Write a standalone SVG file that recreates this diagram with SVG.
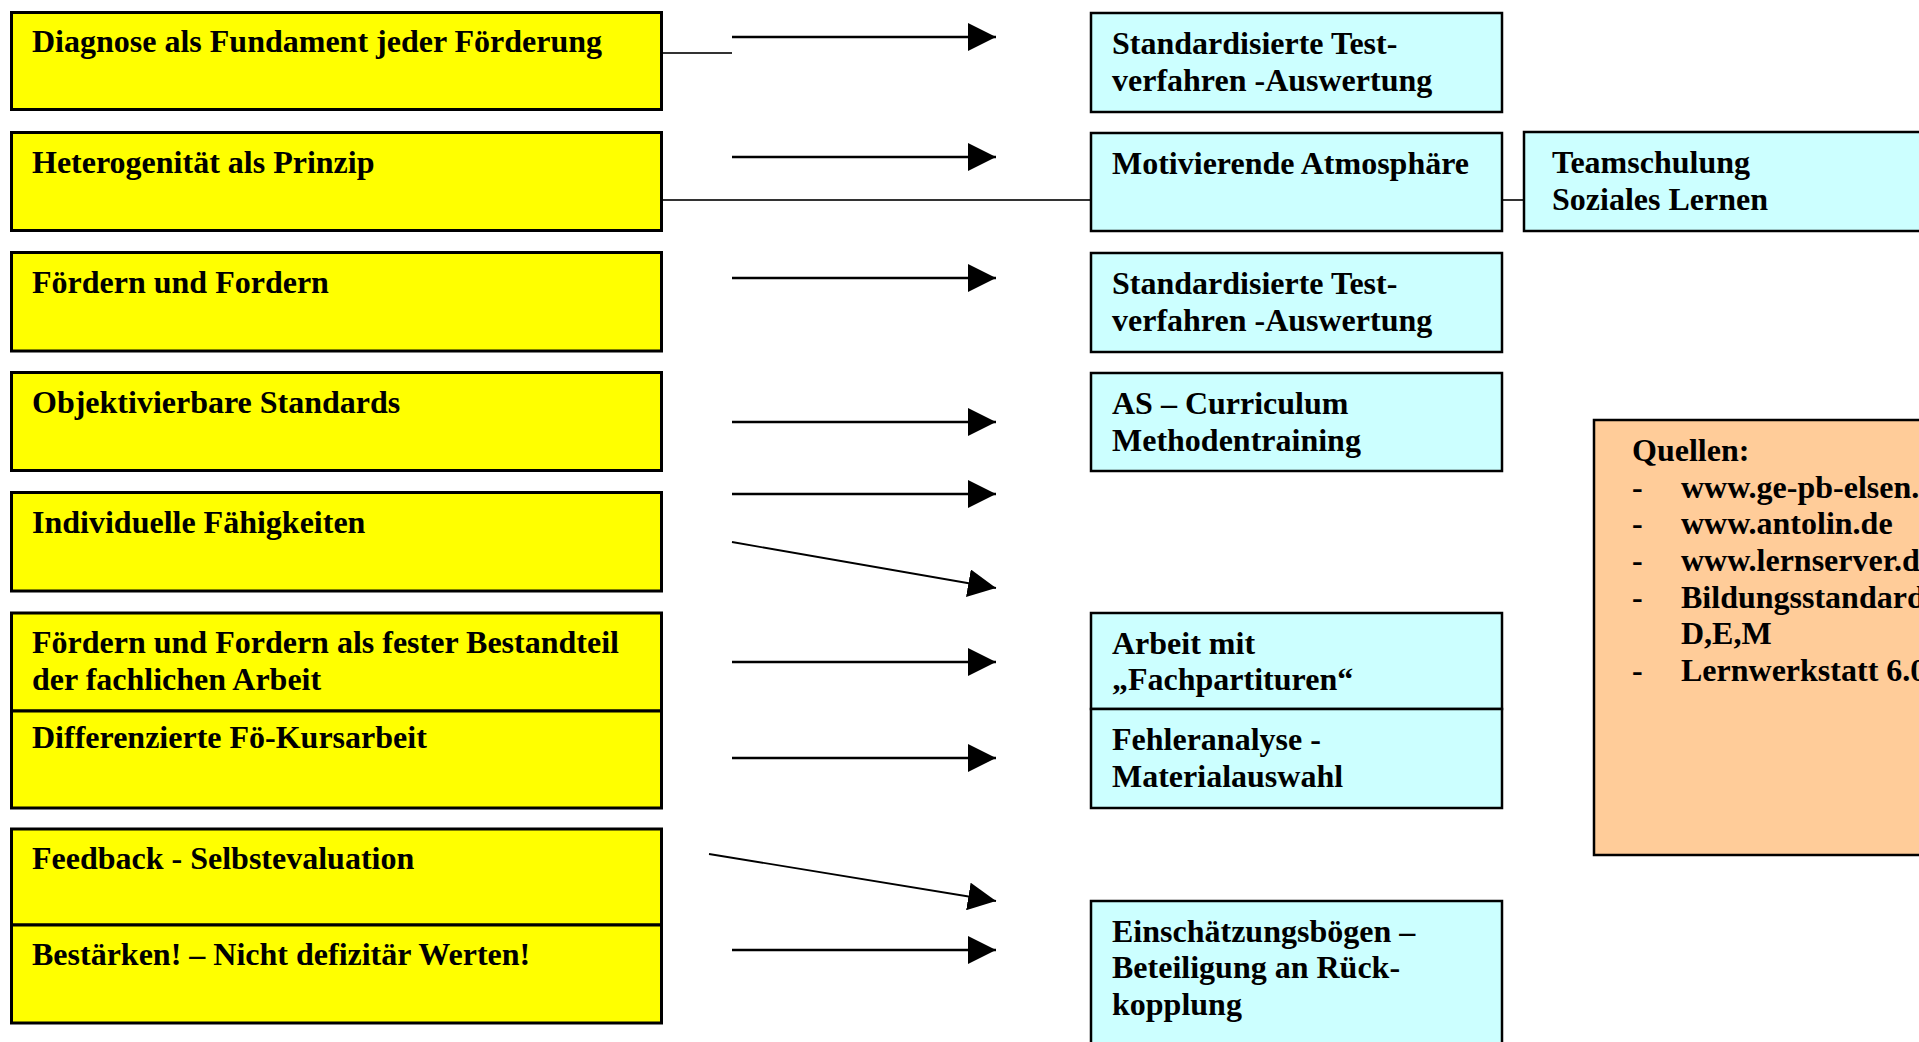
<svg xmlns="http://www.w3.org/2000/svg" width="1919" height="1042" viewBox="0 0 1919 1042">
<style>
  .y { fill: #FFFF00; stroke: #000; stroke-width: 3; }
  .b { fill: #CCFFFF; stroke: #000; stroke-width: 2.5; }
  .o { fill: #FFCC99; stroke: #000; stroke-width: 2.5; }
  text { font-family: "Liberation Serif", "Times New Roman", serif; font-weight: bold; font-size: 32px; fill: #000; }
  .arr { stroke: #000; stroke-width: 2.5; fill: none; marker-end: url(#ah); }
  .arrt { stroke: #000; stroke-width: 1.8; fill: none; marker-end: url(#ah); }
  .ln { stroke: #333; stroke-width: 2; fill: none; }
</style>
<defs>
  <marker id="ah" markerUnits="userSpaceOnUse" markerWidth="28" markerHeight="28" refX="28" refY="14" orient="auto">
    <path d="M0,0 L28,14 L0,28 Z" fill="#000"/>
  </marker>
</defs>
<rect width="1919" height="1042" fill="#fff"/>

<g id="connectors">
  <line class="ln" x1="663" y1="53" x2="732" y2="53"/>
  <line class="arr" x1="732" y1="37" x2="996" y2="37"/>
  <line class="arr" x1="732" y1="157" x2="996" y2="157"/>
  <line class="ln" x1="663" y1="200" x2="1090" y2="200"/>
  <line class="ln" x1="1503" y1="200" x2="1523" y2="200"/>
  <line class="arr" x1="732" y1="278" x2="996" y2="278"/>
  <line class="arr" x1="732" y1="422" x2="996" y2="422"/>
  <line class="arr" x1="732" y1="494" x2="996" y2="494"/>
  <line class="arrt" x1="732" y1="542" x2="996" y2="588"/>
  <line class="arr" x1="732" y1="662" x2="996" y2="662"/>
  <line class="arr" x1="732" y1="758" x2="996" y2="758"/>
  <line class="arrt" x1="709" y1="854" x2="996" y2="901"/>
  <line class="arr" x1="732" y1="950" x2="996" y2="950"/>
</g>

<g id="n1"><rect class="y" x="11.5" y="12.5" width="650" height="97"/><text x="32" y="52">Diagnose als Fundament jeder Förderung</text></g>
<g id="n2"><rect class="y" x="11.5" y="132.5" width="650" height="98"/><text x="32" y="173">Heterogenität als Prinzip</text></g>
<g id="n3"><rect class="y" x="11.5" y="252.5" width="650" height="98.5"/><text x="32" y="293">Fördern und Fordern</text></g>
<g id="n4"><rect class="y" x="11.5" y="372.5" width="650" height="98"/><text x="32" y="413">Objektivierbare Standards</text></g>
<g id="n5"><rect class="y" x="11.5" y="492.5" width="650" height="98.5"/><text x="32" y="533">Individuelle Fähigkeiten</text></g>
<g id="n6"><rect class="y" x="11.5" y="613" width="650" height="98"/><text x="32" y="653">Fördern und Fordern als fester Bestandteil</text><text x="32" y="690">der fachlichen Arbeit</text></g>
<g id="n7"><rect class="y" x="11.5" y="711" width="650" height="97"/><text x="32" y="748">Differenzierte Fö-Kursarbeit</text></g>
<g id="n8"><rect class="y" x="11.5" y="829" width="650" height="96"/><text x="32" y="869">Feedback - Selbstevaluation</text></g>
<g id="n9"><rect class="y" x="11.5" y="925" width="650" height="98"/><text x="32" y="965">Bestärken! – Nicht defizitär Werten!</text></g>

<g id="b1"><rect class="b" x="1091" y="13" width="411" height="99"/><text x="1112" y="54">Standardisierte Test-</text><text x="1112" y="91">verfahren -Auswertung</text></g>
<g id="b2"><rect class="b" x="1091" y="133" width="411" height="98"/><text x="1112" y="174">Motivierende Atmosphäre</text></g>
<g id="b3"><rect class="b" x="1524" y="132" width="420" height="99"/><text x="1552" y="173">Teamschulung</text><text x="1552" y="210">Soziales Lernen</text></g>
<g id="b4"><rect class="b" x="1091" y="253" width="411" height="99"/><text x="1112" y="294">Standardisierte Test-</text><text x="1112" y="331">verfahren -Auswertung</text></g>
<g id="b5"><rect class="b" x="1091" y="373" width="411" height="98"/><text x="1112" y="414">AS – Curriculum</text><text x="1112" y="451">Methodentraining</text></g>
<g id="b6"><rect class="b" x="1091" y="613" width="411" height="96"/><text x="1112" y="654">Arbeit mit</text><text x="1112" y="690">„Fachpartituren“</text></g>
<g id="b7"><rect class="b" x="1091" y="709" width="411" height="99"/><text x="1112" y="750">Fehleranalyse -</text><text x="1112" y="787">Materialauswahl</text></g>
<g id="b8"><rect class="b" x="1091" y="901" width="411" height="160"/><text x="1112" y="942">Einschätzungsbögen –</text><text x="1112" y="978">Beteiligung an Rück-</text><text x="1112" y="1015">kopplung</text></g>

<g id="quellen">
  <rect class="o" x="1594" y="420" width="340" height="435"/>
  <text x="1632" y="461">Quellen:</text>
  <text x="1632" y="498">-</text><text x="1681" y="498">www.ge-pb-elsen.</text>
  <text x="1632" y="534">-</text><text x="1681" y="534">www.antolin.de</text>
  <text x="1632" y="571">-</text><text x="1681" y="571">www.lernserver.d</text>
  <text x="1632" y="608">-</text><text x="1681" y="608">Bildungsstandard</text>
  <text x="1681" y="644">D,E,M</text>
  <text x="1632" y="681">-</text><text x="1681" y="681">Lernwerkstatt 6.0</text>
</g>
</svg>
